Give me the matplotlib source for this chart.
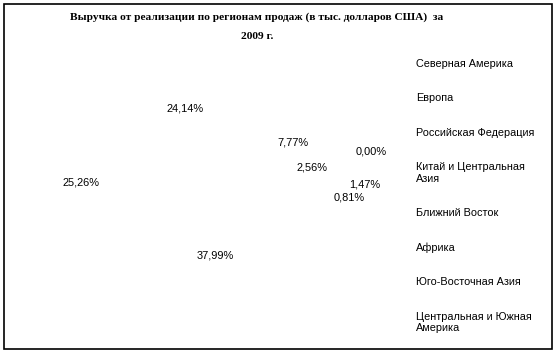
import matplotlib
matplotlib.use("Agg")
import matplotlib.pyplot as plt
from matplotlib.patches import Rectangle
import numpy as np

title = "Выручка от реализации по регионам продаж (в тыс. долларов США)  за\n2009 г."

regions = ["Северная Америка", "Европа", "Российская Федерация",
           "Китай и Центральная\nАзия", "Ближний Восток", "Африка",
           "Юго-Восточная Азия", "Центральная и Южная\nАмерика"]
shares = [0.81, 37.99, 25.26, 24.14, 7.77, 0.00, 2.56, 1.47]

# label placement (best-fit style, as in the original)
lab_r = [1.35, 0.735, 1.34, 0.79, 0.88, 1.59, 0.985, 1.50]
lab_shift = [-2.7, -15.8, 8.0, 28.5, 1.0, -1.0, 0.8, -1.0]

W, H = 557, 354
fig = plt.figure(figsize=(W / 100, H / 100), dpi=100)
fig.patch.set_facecolor("white")

# pie axes, 300x300 px centred at (215, 182)
ax = fig.add_axes([(215 - 150) / W, (H - 182 - 150) / H, 300 / W, 300 / H])
wedges, _ = ax.pie(shares, startangle=-2.5, counterclock=False, radius=1,
                   colors=["white"] * len(shares),
                   wedgeprops=dict(linewidth=0))
ax.set_xlim(-1.5, 1.5)
ax.set_ylim(-1.5, 1.5)
ax.axis("off")

for w, v, r, s in zip(wedges, shares, lab_r, lab_shift):
    a = np.deg2rad((w.theta1 + w.theta2) / 2 + s)
    ax.text(r * np.cos(a), r * np.sin(a), f"{v:.2f}%".replace(".", ","),
            ha="center", va="center", fontsize=7.9, family="Liberation Sans")

fig.text(257 / W, 1 - 27 / H, title, ha="center", va="center",
         fontsize=8.2, fontweight="bold", family="Liberation Serif",
         linespacing=2.4)

leg = fig.legend(wedges, regions, loc="upper left",
                 bbox_to_anchor=(416 / W, 1 - 59 / H), frameon=False,
                 handlelength=0, handletextpad=0, borderpad=0,
                 borderaxespad=0, labelspacing=2.25,
                 prop=dict(family="Liberation Sans", size=7.8))

fig.patches.append(Rectangle((4 / W, 1 - 349 / H), 548 / W, 345 / H,
                             transform=fig.transFigure, fill=False,
                             edgecolor="black", linewidth=1.2))

fig.savefig("out.png", dpi=100)
